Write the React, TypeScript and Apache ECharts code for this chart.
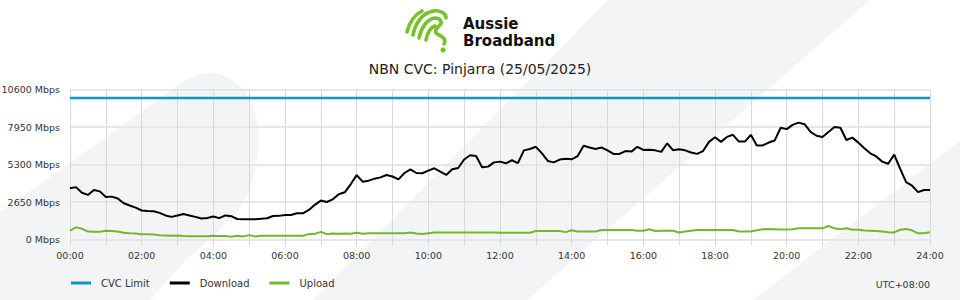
import React, { useEffect, useRef } from "react";
import * as echarts from "echarts";

// ---- data (10-minute samples, 00:00 .. 24:00) ----
const times: string[] = Array.from({ length: 145 }, (_, i) =>
  `${String(Math.floor(i / 6)).padStart(2, "0")}:${String((i % 6) * 10).padStart(2, "0")}`
);

const yTicks = [0, 2650, 5300, 7950, 10600];
const cvcLimit = 10000;

const download = [
  3620, 3700, 3300, 3150, 3500, 3400, 3000, 3030, 2900, 2560, 2400, 2250,
  2050, 2010, 2000, 1880, 1700, 1600, 1700, 1800, 1700, 1600, 1480, 1520,
  1620, 1510, 1700, 1650, 1450, 1430, 1430, 1430, 1470, 1500, 1660, 1670,
  1730, 1730, 1850, 1850, 2090, 2450, 2750, 2650, 2840, 3200, 3335, 3900,
  4550, 4088, 4159, 4300, 4390, 4560, 4450, 4253, 4700, 4961, 4700, 4680,
  4866, 5032, 4800, 4560, 4961, 5050, 5650, 5950, 5900, 5100, 5150, 5450,
  5503, 5385, 5600, 5400, 6300, 6400, 6550, 6100, 5550, 5450, 5650, 5700,
  5668, 5900, 6620, 6500, 6400, 6500, 6300, 6046, 6050, 6250, 6211, 6550,
  6328, 6350, 6300, 6190, 6800, 6300, 6375, 6300, 6150, 6050, 6250, 6900,
  7223, 6900, 7250, 7400, 6917, 6917, 7400, 6650, 6650, 6850, 7000, 7900,
  7800, 8100, 8260, 8150, 7600, 7330, 7250, 7600, 7950, 7900, 7035, 7200,
  6846, 6450, 6093, 5870, 5503, 5350, 6000, 5000, 4050, 3800, 3350, 3500, 3500,
];

const upload = [
  620, 860, 760, 560, 550, 550, 620, 600, 560, 480, 440, 430,
  370, 370, 350, 300, 290, 270, 290, 250, 230, 230, 230, 230,
  260, 250, 240, 200, 270, 220, 310, 220, 260, 270, 270, 270,
  270, 270, 270, 270, 380, 400, 540, 380, 430, 400, 430, 400,
  480, 400, 440, 440, 440, 440, 440, 440, 440, 500, 420, 390,
  440, 500, 500, 500, 500, 500, 500, 500, 500, 500, 500, 500,
  480, 480, 480, 480, 480, 480, 600, 600, 600, 600, 600, 520,
  650, 560, 560, 560, 560, 670, 670, 670, 670, 670, 670, 620,
  620, 720, 600, 620, 620, 620, 500, 560, 620, 672, 672, 672,
  672, 672, 672, 672, 560, 560, 560, 650, 720, 740, 720, 700,
  700, 720, 790, 790, 790, 790, 790, 950, 790, 720, 790, 690,
  690, 630, 620, 600, 560, 520, 500, 690, 740, 650, 440, 440, 510,
];

const seriesNames = ["CVC Limit", "Download", "Upload"];
const seriesColors = ["#0a96d6", "#000000", "#74b72a"];
const titleText = "NBN CVC: Pinjarra (25/05/2025)";
const timezoneText = "UTC+08:00";
const logoWords = ["Aussie", "Broadband"];

// ---- logo shapes ----
const logoPaths = [
  "M 7 32 C 9 24 14 15 22 11",
  "M 13 35 C 15 24 22 13 33 11 C 40 10 46 13 46 18",
  "M 19 38 C 21 28 27 19 35 18 C 41 18 43 23 39 26 C 35 29 34 33 39 35 C 44 37 46 40 44 44",
  "M 26 40 C 27 33 31 27 35 26",
];
logoPaths.forEach((d, i) => {
  echarts.graphic.registerShape("abbLogo" + i, echarts.graphic.extendPath(d, {}));
});

const FONT = "DejaVu Sans";
const BG = "#f3f4f6";

export default function App() {
  const ref = useRef<HTMLDivElement>(null);
  useEffect(() => {
    if (!ref.current) return;
    const chart = echarts.init(ref.current, undefined, { renderer: "svg" });
    const cvcData = times.map(() => cvcLimit);
    const option: any = {
      animation: false,
      backgroundColor: "#ffffff",
      title: {
        text: titleText,
        left: "center",
        top: 57,
        textStyle: { fontSize: 14, fontWeight: "normal", color: "#222", fontFamily: FONT },
      },
      grid: { left: 70, right: 30, top: 89.5, bottom: 60.5, containLabel: false, outerBoundsMode: "none" },
      legend: {
        data: seriesNames,
        left: 66,
        top: 273,
        icon: "rect",
        itemWidth: 20,
        itemHeight: 3,
        itemGap: 20,
        textStyle: { fontSize: 10, color: "#333", fontFamily: FONT, padding: [0, 0, 0, 5] },
      },
      xAxis: {
        type: "category",
        data: times,
        boundaryGap: false,
        axisLine: { show: false },
        axisTick: { show: true, interval: 5, length: 6, lineStyle: { color: "#d9d9d9" } },
        splitLine: { show: true, interval: 5, lineStyle: { color: "#d9d9d9", width: 1 } },
        axisLabel: { interval: 11, color: "#333", fontSize: 9.5, fontFamily: FONT, margin: 11 },
      },
      yAxis: {
        type: "value",
        min: yTicks[0],
        max: yTicks[yTicks.length - 1],
        interval: yTicks[1] - yTicks[0],
        axisLine: { show: false },
        axisTick: { show: false },
        splitLine: { lineStyle: { color: "#e6e6e6", width: 2 } },
        axisLabel: {
          formatter: (v: number) => `${v} Mbps`,
          color: "#333",
          fontSize: 9.5,
          fontFamily: FONT,
          margin: 10,
        },
      },
      series: [
        { name: seriesNames[0], type: "line", data: cvcData, symbol: "none", lineStyle: { width: 2.5, color: seriesColors[0] }, itemStyle: { color: seriesColors[0] }, z: 3 },
        { name: seriesNames[1], type: "line", data: download, symbol: "none", lineStyle: { width: 2, color: seriesColors[1] }, itemStyle: { color: seriesColors[1] }, z: 4 },
        { name: seriesNames[2], type: "line", data: upload, symbol: "none", lineStyle: { width: 2, color: seriesColors[2] }, itemStyle: { color: seriesColors[2] }, z: 4 },
      ],
      graphic: [
        {
          type: "polygon",
          z: -100,
          silent: true,
          shape: {
            points: [
              [0, 212], [60, 170], [120, 127], [170, 91], [186, 80], [200, 74], [215, 73], [230, 78],
              [244, 90], [254, 108], [259, 130], [257, 160], [250, 190], [236, 214], [212, 237],
              [184, 262], [150, 300], [0, 300],
            ],
          },
          style: { fill: BG },
        },
        { type: "polygon", z: -100, silent: true, shape: { points: [[608, 0], [870, 0], [527, 300], [313, 300]] }, style: { fill: BG } },
        { type: "polygon", z: -100, silent: true, shape: { points: [[960, 141], [960, 300], [753, 300]] }, style: { fill: BG } },
        ...logoPaths.map((_, i) => ({
          type: "abbLogo" + i,
          x: 400,
          y: 0,
          silent: true,
          style: { fill: "none", stroke: "#76c22b", lineWidth: 3.6, lineCap: "round", lineJoin: "round" },
        })),
        { type: "circle", shape: { cx: 443, cy: 50, r: 2.6 }, style: { fill: "#76c22b" } },
        {
          type: "text",
          x: 463,
          y: 23.5,
          style: {
            text: logoWords[0],
            fontSize: 15,
            lineHeight: 15,
            fontWeight: "bold",
            fontFamily: FONT,
            fill: "#111",
            verticalAlign: "middle",
          },
        },
        {
          type: "text",
          x: 463,
          y: 41.3,
          style: {
            text: logoWords[1],
            fontSize: 15,
            lineHeight: 15,
            fontWeight: "bold",
            fontFamily: FONT,
            fill: "#111",
            verticalAlign: "middle",
          },
        },
        {
          type: "text",
          x: 930,
          y: 284,
          style: { text: timezoneText, fontSize: 9.5, fontFamily: FONT, fill: "#333", align: "right", verticalAlign: "middle" },
        },
      ],
    };
    chart.setOption(option);
    return () => chart.dispose();
  }, []);
  return <div ref={ref} style={{ position: "fixed", left: 0, top: 0, width: 960, height: 300 }} />;
}
